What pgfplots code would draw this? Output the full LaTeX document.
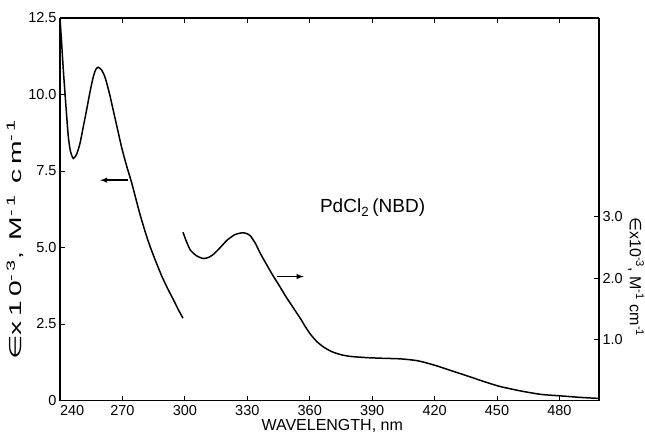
\documentclass[border=0pt]{standalone}
\usepackage{graphicx}
\usepackage{fontspec}
\setmainfont{Liberation Sans}
\newfontfamily\djv{DejaVu Sans}
\newfontfamily\widesans[LetterSpace=15]{Liberation Sans}
\newfontfamily\widedjv[LetterSpace=15]{DejaVu Sans}
\usepackage{pgfplots}
\pgfplotsset{compat=1.18}

% left curve, left scale (eps x 10^-3)
\pgfplotstableread{
x y
240.0 12.5
240.8 11.67
241.6 10.8
242.4 10.04
243.2 9.3
244.0 8.62
245.0 8.15
246.4 7.91
248.0 8.05
249.6 8.4
251.2 8.95
252.8 9.5
254.4 10.08
256.0 10.58
257.2 10.82
258.4 10.89
260.0 10.80
261.7 10.55
263.7 10.05
265.7 9.45
267.7 8.85
269.7 8.25
272.0 7.67
274.5 7.10
276.5 6.58
278.5 6.07
281.0 5.50
283.3 5.03
286.0 4.55
289.0 4.05
291.8 3.65
294.6 3.28
297.0 2.95
299.1 2.69
}\leftdata

% right curve, right scale
\pgfplotstableread{
x y
299.1 2.75
300.5 2.62
302.6 2.46
305.8 2.36
309.0 2.32
311.5 2.34
313.8 2.39
317.0 2.50
320.3 2.62
324.0 2.71
327.5 2.74
329.5 2.73
331.5 2.69
334.0 2.56
336.3 2.40
340.3 2.16
342.7 2.02
345.5 1.87
348.5 1.70
352.0 1.52
355.7 1.33
358.0 1.20
360.4 1.08
363.5 0.96
366.8 0.87
370.5 0.80
374.8 0.75
379.6 0.72
387.7 0.70
395.0 0.69
403.7 0.68
411.8 0.65
419.7 0.58
427.8 0.49
435.8 0.40
445.5 0.29
451.9 0.225
461.5 0.155
471.1 0.10
480.7 0.075
490.4 0.05
498.4 0.035
}\rightdata

\newcommand{\epslabel}{{\djv ∈}x10\textsuperscript{-3}, M\textsuperscript{-1} cm\textsuperscript{-1}}
\newcommand{\epslabelwide}{{\widedjv ∈}\widesans x10\textsuperscript{-3}, M\textsuperscript{-1} cm\textsuperscript{-1}}

\begin{document}
\begin{tikzpicture}
\useasboundingbox (-60bp,-35.5bp) rectangle (585bp,400.5bp);
\pgfplotsset{
  every axis/.append style={
    scale only axis, width=539bp, height=382.5bp,
    at={(0,0)}, anchor=south west,
    xmin=240, xmax=499,
    clip mode=individual,
    axis line style={line width=1.1bp},
    major tick length=5bp,
    tick style={line width=0.9bp, black},
    tick label style={font=\fontsize{14.5bp}{17bp}\selectfont},
  },
}
\begin{axis}[
    ymin=0, ymax=12.5,
    xtick={240,270,300,330,360,390,420,450,480},
    xticklabels={\makebox[0pt][l]{240},270,300,330,360,390,420,450,480},
    ytick={0,2.5,5,7.5,10,12.5},
    yticklabels={0,2.5,5.0,7.5,10.0,12.5},
    axis y line*=left,
    axis x line*=box,
    xticklabel style={yshift=-1bp},
]
\addplot[black, line width=1.5bp, smooth, tension=0.4] table {\leftdata};
\draw[-latex, line width=1.4bp] (axis cs:272.7,7.2) -- (axis cs:259.3,7.2);
\draw[-latex, line width=1.4bp] (axis cs:344.3,4.05) -- (axis cs:357.1,4.05);
\node[font=\fontsize{19bp}{22bp}\selectfont] at (axis cs:390.2,6.29) {PdCl\textsubscript{2}\,(NBD)};
\node[rotate=90, font=\fontsize{17bp}{20bp}\selectfont] at (axis description cs:-0.0835,0.42) {\resizebox{240bp}{\height}{\epslabelwide}};
\node[font=\fontsize{16bp}{19bp}\selectfont] at (axis description cs:0.505,-0.066) {WAVELENGTH, nm};
\end{axis}
\begin{axis}[
    ymin=0, ymax=6.25,
    hide x axis,
    axis y line*=right,
    ytick={1,2,3},
    yticklabels={1.0,2.0,3.0},
]
\addplot[black, line width=1.5bp, smooth, tension=0.4] table {\rightdata};
\node[rotate=-90, font=\fontsize{16bp}{19bp}\selectfont] at (axis description cs:1.0686,0.323) {\epslabel};
\end{axis}
\end{tikzpicture}
\end{document}
